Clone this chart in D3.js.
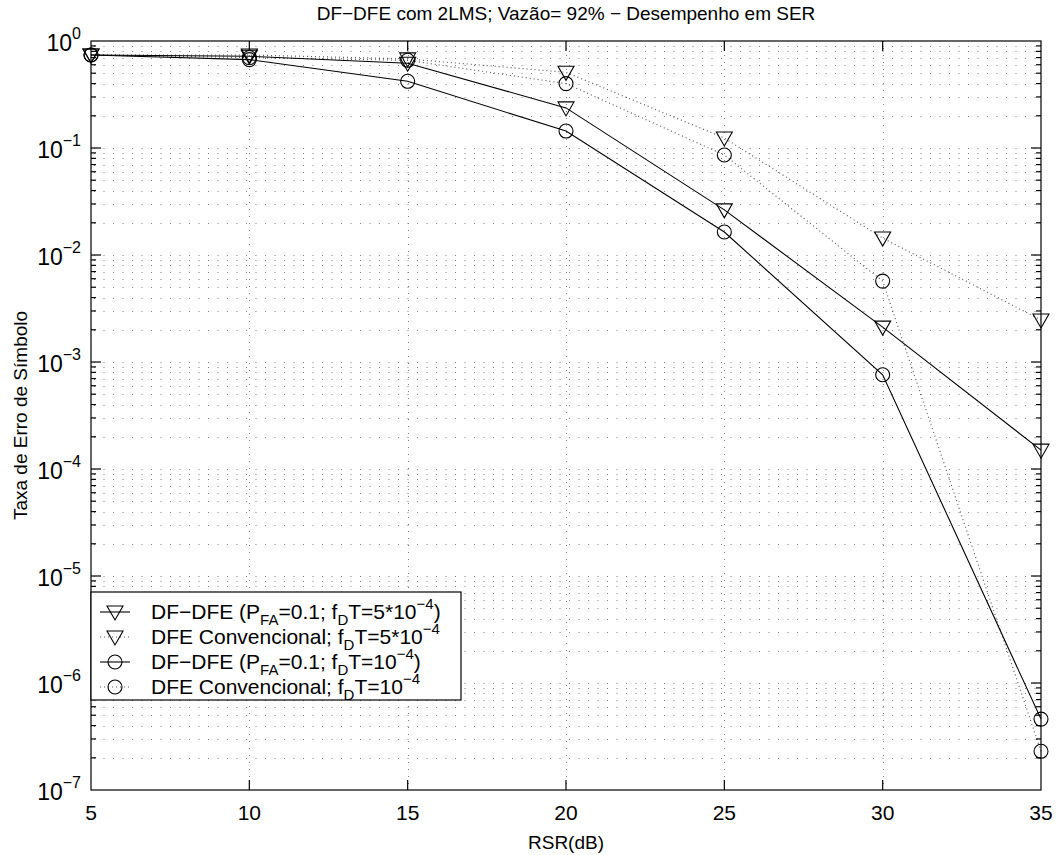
<!DOCTYPE html>
<html><head><meta charset="utf-8">
<script src="https://cdn.jsdelivr.net/npm/d3@7"></script>
<style>body{margin:0;background:#fff;} svg{font-family:"Liberation Sans",Arial,sans-serif;}</style>
</head><body>
<svg id="c" width="1061" height="855"></svg>
<script>
const snr = [5, 10, 15, 20, 25, 30, 35];
const dfdfe5 = [0.74, 0.72, 0.62, 0.237, 0.0264, 0.00212, 1.5e-4];
const conv5 = [0.74, 0.74, 0.68, 0.51, 0.124, 0.0144, 0.00247];
const dfdfe1 = [0.74, 0.67, 0.42, 0.144, 0.0164, 7.6e-4, 4.6e-7];
const conv1 = [0.74, 0.70, 0.66, 0.40, 0.086, 0.0057, 2.3e-7];
const xTicks = [5, 10, 15, 20, 25, 30, 35];
const yExps = [0, -1, -2, -3, -4, -5, -6, -7];

const svg = d3.select("#c");
const L = 91, R = 1041, T = 41, B = 790;
const x = d3.scaleLinear().domain([5, 35]).range([L, R]);
const y = d3.scaleLog().domain([1e-7, 1]).range([B, T]);

// grid
const grid = svg.append("g").attr("stroke", "#000").attr("stroke-width", 1).attr("stroke-dasharray", "1,8.5").attr("opacity", 0.5);
xTicks.slice(1, -1).forEach(v => grid.append("line").attr("x1", Math.round(x(v)) + 0.5).attr("x2", Math.round(x(v)) + 0.5).attr("y1", T).attr("y2", B).attr("stroke-dasharray", "1,6"));
const minorVals = [];
for (let e = -7; e < 0; e++) for (let m = 1; m <= 9; m++) { const v = m * Math.pow(10, e); if (v > 1e-7 && v < 1) minorVals.push(v); }
minorVals.forEach(v => grid.append("line").attr("x1", L + 3).attr("x2", R).attr("y1", Math.round(y(v)) + 0.5).attr("y2", Math.round(y(v)) + 0.5));

// axes
const ax = svg.append("g").attr("stroke", "#000").attr("stroke-width", 1.2);
ax.append("rect").attr("x", L).attr("y", T).attr("width", R - L).attr("height", B - T).attr("fill", "none");
xTicks.slice(1, -1).forEach(v => {
  ax.append("line").attr("x1", x(v)).attr("x2", x(v)).attr("y1", B).attr("y2", B - 10);
  ax.append("line").attr("x1", x(v)).attr("x2", x(v)).attr("y1", T).attr("y2", T + 10);
});
minorVals.forEach(v => {
  const major = Math.abs(Math.log10(v) - Math.round(Math.log10(v))) < 1e-9;
  const len = major ? 10 : 5;
  ax.append("line").attr("x1", L).attr("x2", L + len).attr("y1", y(v)).attr("y2", y(v));
  ax.append("line").attr("x1", R).attr("x2", R - len).attr("y1", y(v)).attr("y2", y(v));
});

// tick labels
svg.append("g").selectAll("text").data(xTicks).join("text")
  .attr("x", d => x(d)).attr("y", 820).attr("text-anchor", "middle").attr("font-size", 21).text(d => d);
const yl = svg.append("g").selectAll("text").data(yExps).join("text")
  .attr("x", 81).attr("y", d => y(Math.pow(10, d)) + 10).attr("text-anchor", "end").attr("font-size", 23);
yl.append("tspan").text("10");
yl.append("tspan").attr("dy", -12).attr("font-size", 16).text(d => d === 0 ? "0" : "−" + (-d));

svg.append("text").attr("x", (L + R) / 2).attr("y", 20).attr("text-anchor", "middle").attr("font-size", 19).text("DF−DFE com 2LMS; Vazão= 92% − Desempenho em SER");
svg.append("text").attr("x", (L + R) / 2).attr("y", 849).attr("text-anchor", "middle").attr("font-size", 19).text("RSR(dB)");
svg.append("text").attr("transform", `translate(27,${(T + B) / 2}) rotate(-90)`).attr("text-anchor", "middle").attr("font-size", 19).text("Taxa de Erro de Símbolo");

// series
const series = [
  {v: dfdfe5, m: "tri", dash: null},
  {v: conv5, m: "tri", dash: "1,3"},
  {v: dfdfe1, m: "circ", dash: null},
  {v: conv1, m: "circ", dash: "1,3"}
];
const line = d3.line().x((d, i) => x(snr[i])).y(d => y(d));
const triPath = (cx, cy) => `M${cx - 8},${cy - 6}L${cx + 8},${cy - 6}L${cx},${cy + 8}Z`;
function marker(g, m, cx, cy) {
  if (m === "tri") g.append("path").attr("d", triPath(cx, cy)).attr("fill", "none").attr("stroke", "#000").attr("stroke-width", 1.1);
  else g.append("circle").attr("cx", cx).attr("cy", cy).attr("r", 7).attr("fill", "none").attr("stroke", "#000").attr("stroke-width", 1.1);
}
series.forEach(s => {
  const g = svg.append("g");
  g.append("path").attr("d", line(s.v)).attr("fill", "none").attr("stroke", "#000")
    .attr("stroke-width", s.dash ? 1.2 : 1.1).attr("stroke-dasharray", s.dash).attr("opacity", s.dash ? 0.65 : 1);
  s.v.forEach((d, i) => marker(g, s.m, x(snr[i]), y(d)));
});

// legend
const lg = svg.append("g");
lg.append("rect").attr("x", L).attr("y", 592).attr("width", 370).attr("height", 108).attr("fill", "#fff").attr("stroke", "#000").attr("stroke-width", 1.2);
const rows = [612, 637, 662, 687];
series.forEach((s, i) => {
  const yy = rows[i];
  lg.append("line").attr("x1", 100).attr("x2", 130).attr("y1", yy).attr("y2", yy).attr("stroke", "#000")
    .attr("stroke-width", 1.1).attr("stroke-dasharray", s.dash).attr("opacity", s.dash ? 0.65 : 1);
  marker(lg, s.m, 115, yy);
});
function legText(yy, parts) {
  const t = lg.append("text").attr("x", 151).attr("y", yy + 7).attr("font-size", 21);
  parts.forEach(p => {
    const ts = t.append("tspan").text(p[0]);
    if (p[1] === "sub") ts.attr("dy", 6).attr("font-size", 15);
    else if (p[1] === "sup") ts.attr("dy", -10).attr("font-size", 15);
    else if (p[1] === "subback") ts.attr("dy", -6);
    else if (p[1] === "supback") ts.attr("dy", 10);
  });
}
legText(rows[0], [["DF−DFE (P"], ["FA", "sub"], ["=0.1; f", "subback"], ["D", "sub"], ["T=5*10", "subback"], ["−4", "sup"], [")", "supback"]]);
legText(rows[1], [["DFE Convencional; f"], ["D", "sub"], ["T=5*10", "subback"], ["−4", "sup"]]);
legText(rows[2], [["DF−DFE (P"], ["FA", "sub"], ["=0.1; f", "subback"], ["D", "sub"], ["T=10", "subback"], ["−4", "sup"], [")", "supback"]]);
legText(rows[3], [["DFE Convencional; f"], ["D", "sub"], ["T=10", "subback"], ["−4", "sup"]]);
</script>
</body></html>
